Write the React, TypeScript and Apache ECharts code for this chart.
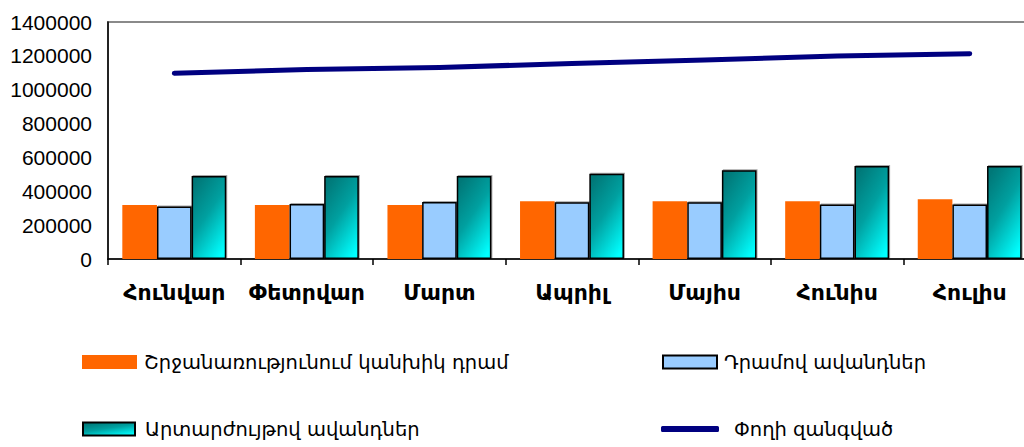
import React, { useEffect, useRef } from "react";
import * as echarts from "echarts";

const categories = ["Հունվար", "Փետրվար", "Մարտ", "Ապրիլ", "Մայիս", "Հունիս", "Հուլիս"];
const cashValues = [319000, 319000, 319000, 341000, 341000, 341000, 353000];
const dramDeposits = [310000, 325000, 337000, 335000, 335000, 322000, 322000];
const fxDeposits = [490000, 490000, 490000, 504000, 525000, 549000, 549000];
const moneySupply = [1097000, 1119000, 1131000, 1155000, 1176000, 1199000, 1213000];
const seriesNames = [
  "Շրջանառությունում կանխիկ դրամ",
  "Դրամով ավանդներ",
  "Արտարժույթով ավանդներ",
  "Փողի զանգված",
];

export default function App() {
  const ref = useRef<HTMLDivElement>(null);
  useEffect(() => {
    const chart = echarts.init(ref.current!, undefined, { renderer: "svg" });
    const legendText = {
      fontFamily: "DejaVu Sans",
      fontSize: 19.5,
      color: "#000",
      padding: [0, 0, 0, 2],
    };
    const teal = new echarts.graphic.LinearGradient(0.2, 0, 0.8, 1, [
      { offset: 0, color: "#007878" },
      { offset: 0.45, color: "#00A0A0" },
      { offset: 1, color: "#00FFFF" },
    ]);
    chart.setOption({
      animation: false,
      grid: {
        left: 108,
        top: 22,
        width: 928,
        height: 237,
        show: true,
        borderColor: "#8a8a8a",
        borderWidth: 2,
        backgroundColor: "transparent",
      },
      xAxis: {
        type: "category",
        data: categories,
        boundaryGap: true,
        axisLine: { lineStyle: { color: "#000", width: 1.5 } },
        axisTick: { show: true, length: 6, lineStyle: { color: "#000", width: 1.5 } },
        axisLabel: {
          interval: 0,
          fontFamily: "DejaVu Sans",
          fontWeight: "bold",
          fontSize: 22,
          color: "#000",
          margin: 22,
        },
      },
      yAxis: {
        type: "value",
        min: 0,
        max: 1400000,
        interval: 200000,
        axisLine: { show: true, lineStyle: { color: "#000", width: 1.5 } },
        axisTick: { show: false },
        splitLine: { show: false },
        axisLabel: {
          fontFamily: "Liberation Sans",
          fontSize: 21,
          color: "#000",
          margin: 16,
          formatter: (v: number) => String(v),
        },
      },
      legend: [
        {
          data: [{ name: seriesNames[0], icon: "rect" }],
          left: 82,
          top: 352,
          padding: 0,
          itemWidth: 55,
          itemHeight: 14,
          textStyle: legendText,
        },
        {
          data: [{ name: seriesNames[1], icon: "rect" }],
          left: 662,
          top: 352,
          padding: 0,
          itemWidth: 54,
          itemHeight: 13,
          textStyle: legendText,
        },
        {
          data: [{ name: seriesNames[2], icon: "rect" }],
          left: 82,
          top: 419,
          padding: 0,
          itemWidth: 52,
          itemHeight: 13,
          textStyle: { ...legendText, padding: [0, 0, 0, 5] },
        },
        {
          data: [{ name: seriesNames[3], icon: "roundRect" }],
          left: 661,
          top: 419,
          padding: 0,
          itemWidth: 58,
          itemHeight: 6,
          textStyle: { ...legendText, padding: [0, 0, 0, 10] },
        },
      ],
      series: [
        {
          name: seriesNames[0],
          type: "bar",
          data: cashValues,
          barGap: "0%",
          barCategoryGap: "21.6%",
          itemStyle: { color: "#FF6600" },
        },
        {
          name: seriesNames[1],
          type: "bar",
          data: dramDeposits,
          itemStyle: {
            color: "#99CCFF",
            borderColor: "#000",
            borderWidth: 1.5,
            shadowColor: "rgba(0,0,0,0.35)",
            shadowOffsetX: 1,
            shadowOffsetY: -1,
            shadowBlur: 1,
          },
        },
        {
          name: seriesNames[2],
          type: "bar",
          data: fxDeposits,
          itemStyle: {
            color: teal,
            borderColor: "#000",
            borderWidth: 1.5,
            shadowColor: "rgba(0,0,0,0.35)",
            shadowOffsetX: 1,
            shadowOffsetY: -1,
            shadowBlur: 1,
          },
        },
        {
          name: seriesNames[3],
          type: "line",
          data: moneySupply,
          symbol: "none",
          lineStyle: { color: "#000080", width: 5, cap: "round", join: "round" },
          itemStyle: { color: "#000080" },
        },
      ],
    });
    return () => chart.dispose();
  }, []);
  return (
    <div
      style={{
        position: "fixed",
        left: 0,
        top: 0,
        width: 1024,
        height: 447,
        overflow: "hidden",
        background: "#fff",
      }}
    >
      <div ref={ref} style={{ width: 1040, height: 447 }} />
    </div>
  );
}
